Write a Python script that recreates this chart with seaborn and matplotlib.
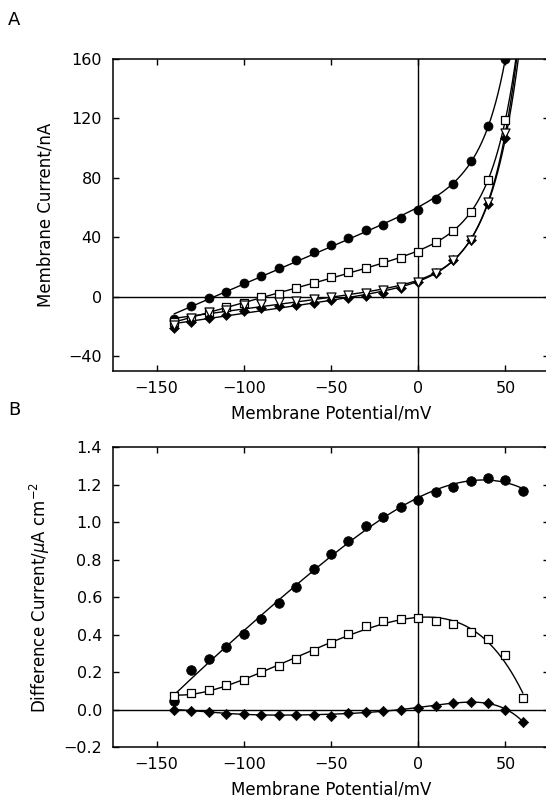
import numpy as np
import pandas as pd
import seaborn as sns
import matplotlib.pyplot as plt

# ---- panel A: membrane current (nA) vs membrane potential (mV)
volt_a = [-140, -130, -120, -110, -100, -90, -80, -70, -60, -50,
          -40, -30, -20, -10, 0, 10, 20, 30, 40, 50]
circ_a = [-15.0, -6.5, -1.1, 3.4, 9.0, 14.2, 19.1, 25.0, 30.0, 35.0,
          39.2, 44.6, 48.6, 53.2, 58.3, 66.0, 75.7, 91.2, 114.6, 160.0]
sq_a = [-17.0, -14.0, -10.6, -7.2, -4.1, -0.5, 2.0, 5.9, 8.9, 13.1,
        16.3, 19.1, 23.2, 26.1, 30.4, 36.7, 44.1, 57.0, 78.4, 119.1]
tri_a = [-18.9, -14.4, -10.6, -8.8, -5.4, -4.6, -3.8, -3.0, -1.6, -0.1,
         1.0, 2.8, 4.2, 6.5, 10.0, 16.0, 25.0, 38.5, 64.0, 110.0]
dia_a = [-21.1, -16.7, -14.4, -12.2, -9.9, -7.7, -6.3, -5.5, -4.3, -2.3,
         -1.2, 0.7, 2.5, 5.9, 10.2, 16.0, 25.0, 38.5, 62.2, 106.5]

# ---- panel B: difference current (uA cm^-2) vs membrane potential (mV)
volt_b = [-140, -130, -120, -110, -100, -90, -80, -70, -60, -50, -40,
          -30, -20, -10, 0, 10, 20, 30, 40, 50, 60]
circ_b = [0.044, 0.209, 0.270, 0.336, 0.404, 0.485, 0.569, 0.655, 0.748, 0.828, 0.899,
          0.977, 1.027, 1.081, 1.115, 1.162, 1.187, 1.221, 1.235, 1.226, 1.167]
sq_b = [0.070, 0.089, 0.103, 0.130, 0.160, 0.198, 0.230, 0.272, 0.312, 0.354, 0.402,
        0.443, 0.474, 0.483, 0.486, 0.474, 0.456, 0.415, 0.375, 0.289, 0.062]
dia_b = [0.000, -0.006, -0.013, -0.024, -0.024, -0.028, -0.028, -0.028, -0.030, -0.032, -0.019,
         -0.013, -0.006, 0.000, 0.008, 0.020, 0.035, 0.040, 0.035, 0.000, -0.064]

xticks = [-150, -100, -50, 0, 50]
yticks_a = [-40, 0, 40, 80, 120, 160]
yticks_b = [-0.2, 0.0, 0.2, 0.4, 0.6, 0.8, 1.0, 1.2, 1.4]


def fit_exp_linear(v, i):
    # I = a + b*V + c*exp(V/k), k chosen by grid search
    v = np.asarray(v, float)
    i = np.asarray(i, float)
    best = None
    for k in np.arange(3.0, 40.0, 0.1):
        A = np.column_stack([np.ones_like(v), v, np.exp(v / k)])
        coef, *_ = np.linalg.lstsq(A, i, rcond=None)
        err = np.sum((A @ coef - i) ** 2)
        if best is None or err < best[0]:
            best = (err, k, coef)
    _, k, coef = best
    return lambda x: coef[0] + coef[1] * x + coef[2] * np.exp(x / k)


sns.set_theme(style="ticks")
plt.rcParams["font.family"] = ["DejaVu Sans"]
plt.rcParams.update({
    "text.color": "black", "axes.labelcolor": "black",
    "xtick.color": "black", "ytick.color": "black",
    "axes.edgecolor": "black",
    "axes.linewidth": 1.1,
    "xtick.direction": "in", "ytick.direction": "in",
    "xtick.major.size": 4.5, "ytick.major.size": 4.5,
    "xtick.major.width": 1.0, "ytick.major.width": 1.0,
    "xtick.labelsize": 11.5, "ytick.labelsize": 11.5,
    "axes.labelsize": 12,
})

fig = plt.figure(figsize=(5.46, 8.05), dpi=100)
ax_a = fig.add_axes([113 / 546, 1 - 371 / 805, 436 / 546, 312 / 805])
ax_b = fig.add_axes([113 / 546, 1 - 747 / 805, 436 / 546, 300 / 805])

for ax in (ax_a, ax_b):
    ax.set_facecolor("white")
    ax.axhline(0, color="black", lw=1.0, zorder=1)
    ax.axvline(0, color="black", lw=1.0, zorder=1)
    ax.set_xlim(-175, 75)
    ax.set_xticks(xticks)
    ax.tick_params(top=True, right=True)
    ax.tick_params(axis="x", pad=7)
    ax.tick_params(axis="y", pad=8)
    ax.set_xlabel("Membrane Potential/mV", labelpad=6)

# panel A curves and markers
df_a = pd.DataFrame({"V": volt_a, "circ": circ_a, "sq": sq_a, "tri": tri_a, "dia": dia_a})
vfine = np.linspace(-140, 62, 600)
for col in ["circ", "sq", "tri", "dia"]:
    f = fit_exp_linear(df_a["V"], df_a[col])
    sns.lineplot(x=vfine, y=f(vfine), ax=ax_a, color="black", lw=1.0, zorder=2)

sns.scatterplot(data=df_a, x="V", y="circ", ax=ax_a, marker="o", color="black",
                edgecolor="black", s=42, zorder=4)
sns.scatterplot(data=df_a, x="V", y="sq", ax=ax_a, marker="s", color="white",
                edgecolor="black", linewidth=0.9, s=36, zorder=4)
sns.scatterplot(data=df_a, x="V", y="dia", ax=ax_a, marker="D", color="black",
                edgecolor="black", s=26, zorder=4)
sns.scatterplot(data=df_a, x="V", y="tri", ax=ax_a, marker="v", color="white",
                edgecolor="black", linewidth=0.9, s=42, zorder=5)

ax_a.set_ylim(-50, 160)
ax_a.set_yticks(yticks_a)
ax_a.set_ylabel("Membrane Current/nA", labelpad=10)

# panel B curves and markers
df_b = pd.DataFrame({"V": volt_b, "circ": circ_b, "sq": sq_b, "dia": dia_b})
vb = np.linspace(-140, 60, 400)
for col, order in [("circ", 4), ("sq", 5), ("dia", 6)]:
    coef = np.polyfit(df_b["V"], df_b[col], order)
    sns.lineplot(x=vb, y=np.polyval(coef, vb), ax=ax_b, color="black", lw=1.0, zorder=2)

sns.scatterplot(data=df_b, x="V", y="circ", ax=ax_b, marker="o", color="black",
                edgecolor="black", s=48, zorder=4)
sns.scatterplot(data=df_b, x="V", y="sq", ax=ax_b, marker="s", color="white",
                edgecolor="black", linewidth=0.9, s=36, zorder=4)
sns.scatterplot(data=df_b, x="V", y="dia", ax=ax_b, marker="D", color="black",
                edgecolor="black", s=28, zorder=4)

ax_b.set_ylim(-0.2, 1.4)
ax_b.set_yticks(yticks_b)
ax_b.set_yticklabels([f"{t:.1f}".replace("-", "\u2212") for t in yticks_b])
ax_b.set_ylabel("Difference Current/$\\mu$A cm$^{-2}$", labelpad=8)

fig.text(8 / 546, 1 - 20 / 805, "A", fontsize=13, va="center", ha="left")
fig.text(8 / 546, 1 - 410 / 805, "B", fontsize=13, va="center", ha="left")

fig.savefig("out.png", dpi=100, facecolor="white")
